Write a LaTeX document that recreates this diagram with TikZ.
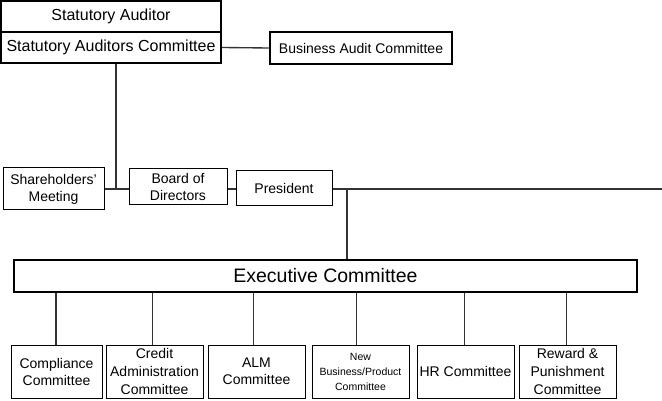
\documentclass[tikz,border=0pt]{standalone}
\usepackage{fontspec}
\setmainfont{Liberation Sans}
\begin{document}
\begin{tikzpicture}[x=1pt,y=-1pt,
  box/.style={draw=black, line width=1pt, inner sep=0pt, align=center,
    font=\fontsize{14}{17}\selectfont},
  heavybox/.style={box, line width=2pt},
  committee/.style={box, minimum width=97pt, minimum height=53pt},
  link/.style={draw=black!80, line width=1.35pt}]
\useasboundingbox (0,0) rectangle (662,401);

% audit block
\node[heavybox, minimum width=220pt, minimum height=31pt, font=\fontsize{16}{19}\selectfont]
  (sa) at (111,16.5) {Statutory Auditor};
\node[heavybox, minimum width=220pt, minimum height=31pt, font=\fontsize{16}{19}\selectfont]
  (sac) at (111,47.5) {Statutory Auditors Committee};
\node[heavybox, minimum width=182pt, minimum height=32pt]
  (bac) at (361,48) {Business Audit Committee};

% governing bodies
\node[box, minimum width=101pt, minimum height=42pt] (sm) at (53.5,189) {Shareholders{\char"27}\\Meeting};
\node[box, minimum width=98pt, minimum height=36pt] (bod) at (178,187) {Board of\\Directors};
\node[box, minimum width=96pt, minimum height=35pt] (pres) at (284,188.5) {President};

% executive committee
\node[heavybox, minimum width=623pt, minimum height=32pt, font=\fontsize{19.5}{23}\selectfont]
  (exec) at (325.5,276) {Executive Committee};

% committees
\node[committee, minimum width=91pt] (c1) at (56.5,371.5) {Compliance\\Committee};
\node[committee, font=\fontsize{14}{18}\selectfont] (c2) at (154.5,371.5) {Credit\\Administration\\Committee};
\node[committee] (c3) at (256.5,371.5) {ALM\\Committee};
\node[committee, font=\fontsize{10.5}{15}\selectfont] (c4) at (360.5,371.5) {New\\Business/Product\\Committee};
\node[committee] (c5) at (465.5,371.5) {HR Committee};
\node[committee, font=\fontsize{14}{18}\selectfont] (c6) at (567.5,371.5) {Reward \&\\Punishment\\Committee};

% connectors
\draw[link] (sac.east) -- (bac.west);
\coordinate (sj) at (116,189);
\draw[link] (sac.south -| sj) -- (sj);
\draw[link] (sm.east |- sj) -- (bod.west |- sj);
\draw[link] (bod.east |- sj) -- (pres.west |- sj);
\coordinate (rim) at (662,189);
\draw[link] (pres.east |- rim) -- (rim);
\coordinate (pj) at (347,189);
\draw[link] (pj) -- (exec.north -| pj);

\foreach \c/\dx in {c1/-0.5, c2/-2.2, c3/-3.2, c4/-3.8, c5/-1.2, c6/-0.8} {
  \path ([xshift=\dx pt]\c.north) coordinate (k-\c);
  \draw[link] (k-\c) -- (k-\c |- exec.south);
}
\end{tikzpicture}
\end{document}
